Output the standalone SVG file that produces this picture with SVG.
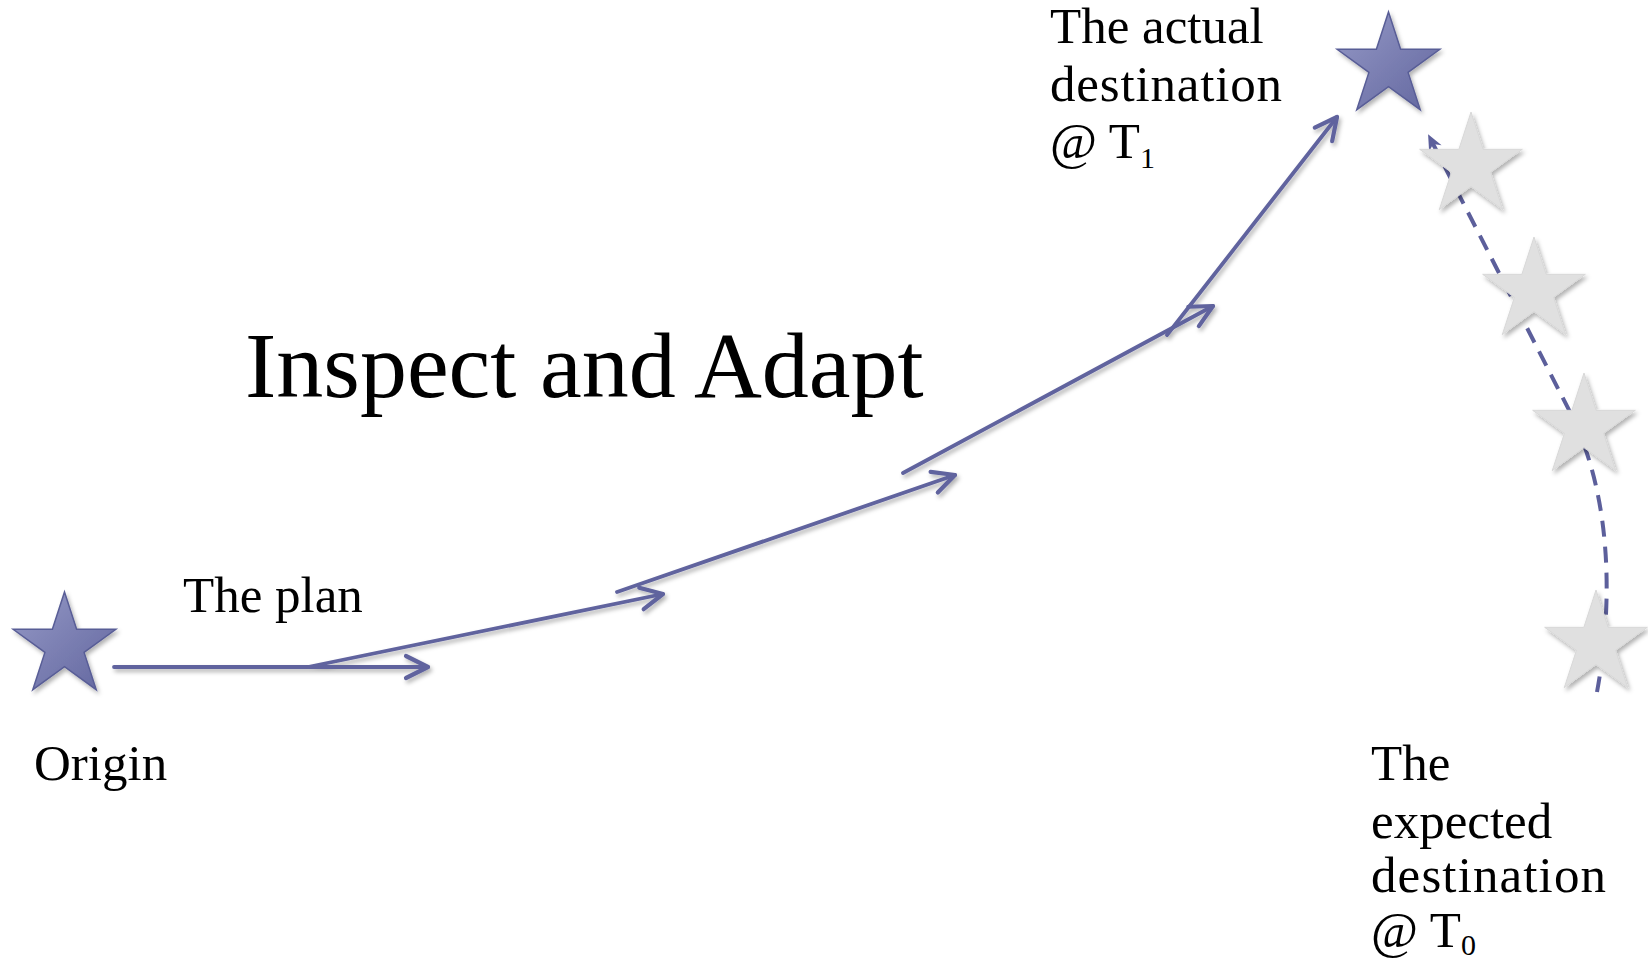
<svg xmlns="http://www.w3.org/2000/svg" width="1648" height="966" viewBox="0 0 1648 966">
<style>
.lbl{font-family:"Liberation Serif","Times New Roman",serif;font-size:51px;fill:#000}
.title{font-family:"Liberation Serif","Times New Roman",serif;font-size:94px;fill:#000}
.ln{fill:none;stroke:#60639e;stroke-width:3.8;stroke-linecap:round}
.dash{fill:none;stroke:#5c5f9b;stroke-width:4;stroke-dasharray:16 10}
.bstar{fill:url(#bg);stroke:#585d96;stroke-width:1.5}
.gstar{fill:#e0e0e0;stroke:#d8d8d8;stroke-width:1}
</style>
<defs>
<linearGradient id="bg" x1="0" y1="0" x2="1" y2="1">
<stop offset="0" stop-color="#9599c6"/>
<stop offset="1" stop-color="#62669f"/>
</linearGradient>
<filter id="sh" x="-20%" y="-20%" width="150%" height="150%">
<feDropShadow dx="2" dy="3" stdDeviation="2" flood-color="#000" flood-opacity="0.3"/>
</filter>
<marker id="open" markerUnits="userSpaceOnUse" markerWidth="40" markerHeight="40" refX="0" refY="0" viewBox="-30 -20 40 40" orient="auto" overflow="visible">
<path d="M-22,-11 L0,0 L-22,11" fill="none" stroke="#60639e" stroke-width="4.2" stroke-linecap="round" stroke-linejoin="round"/>
</marker>
<marker id="stealth" markerUnits="userSpaceOnUse" markerWidth="30" markerHeight="30" refX="0" refY="0" viewBox="-20 -15 30 30" orient="auto" overflow="visible">
<path d="M2,0 L-14,-7 L-9,0 L-14,7 Z" fill="#5c5f9b"/>
</marker>
<path id="star" d="M0,-54 L12.11,-16.67 L51.36,-16.69 L19.59,6.37 L31.74,43.69 L0,20.6 L-31.74,43.69 L-19.59,6.37 L-51.36,-16.69 L-12.11,-16.67 Z"/>
</defs>
<rect width="1648" height="966" fill="#fff"/>
<g id="connectors">
<g filter="url(#sh)">
<line class="ln" x1="114" y1="667" x2="428" y2="667" marker-end="url(#open)"/>
<line class="ln" x1="308" y1="667" x2="663" y2="594" marker-end="url(#open)"/>
<line class="ln" x1="617" y1="592" x2="955" y2="475" marker-end="url(#open)"/>
<line class="ln" x1="903" y1="473" x2="1213" y2="306" marker-end="url(#open)"/>
<line class="ln" x1="1167" y1="335" x2="1337" y2="117" marker-end="url(#open)"/>
</g>
<path class="dash" d="M1597,692 C1612,610 1614,500 1570,412 L1429,136" marker-end="url(#stealth)"/>
</g>
<g id="origin-star" filter="url(#sh)"><use href="#star" class="bstar" transform="translate(64.5,646)"/></g>
<g id="actual-star" filter="url(#sh)"><use href="#star" class="bstar" transform="translate(1388.5,66)"/></g>
<g id="expected-star-1" filter="url(#sh)"><use href="#star" class="gstar" transform="translate(1471,166)"/></g>
<g id="expected-star-2" filter="url(#sh)"><use href="#star" class="gstar" transform="translate(1534,291)"/></g>
<g id="expected-star-3" filter="url(#sh)"><use href="#star" class="gstar" transform="translate(1584,427)"/></g>
<g id="expected-star-4" filter="url(#sh)"><use href="#star" class="gstar" transform="translate(1596,644)"/></g>
<g id="title"><text class="title" x="245" y="397">Inspect and Adapt</text></g>
<g id="plan-label"><text class="lbl" x="183" y="612">The plan</text></g>
<g id="origin-label"><text class="lbl" x="34" y="780">Origin</text></g>
<g id="actual-label">
<text class="lbl" x="1050" y="43">The actual</text>
<text class="lbl" x="1050" y="101" textLength="232" lengthAdjust="spacing">destination</text>
<text class="lbl" x="1050" y="158">@ T<tspan font-size="30" dy="10">1</tspan></text>
</g>
<g id="expected-label">
<text class="lbl" x="1371" y="780">The</text>
<text class="lbl" x="1371" y="838">expected</text>
<text class="lbl" x="1371" y="892" textLength="235" lengthAdjust="spacing">destination</text>
<text class="lbl" x="1371" y="947">@ T<tspan font-size="30" dy="8">0</tspan></text>
</g>
</svg>
